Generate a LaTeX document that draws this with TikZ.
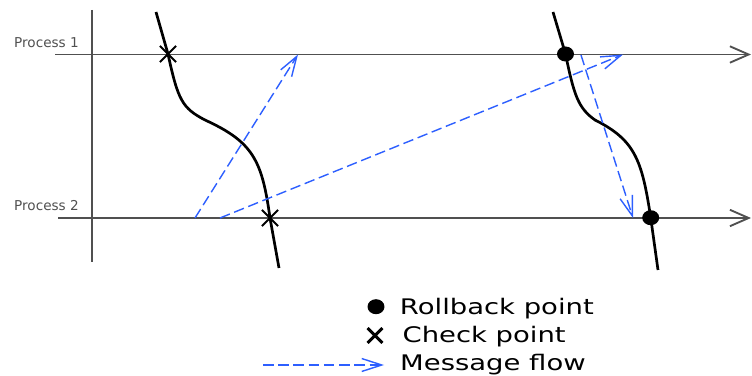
\documentclass[tikz,border=0pt]{standalone}
\usepackage{fontspec}
\newfontfamily\labelfont{DejaVu Sans}
\newfontfamily\legendfont[FakeStretch=1.28]{DejaVu Sans}
\usetikzlibrary{arrows.meta,positioning,shapes.misc,shapes.geometric}
\definecolor{axisgray}{RGB}{80,80,80}
\definecolor{msgblue}{RGB}{45,95,255}

\begin{document}
\begin{tikzpicture}[x=0.03cm,y=-0.03cm,
  axis/.style={draw=axisgray,line width=1.6pt},
  timeline/.style={axis,-{Straight Barb[length=16pt,width=14pt]}},
  life/.style={line width=2.3pt},
  msg/.style={draw=msgblue,line width=1.2pt,dash pattern=on 9pt off 4pt,-{Straight Barb[length=17pt,width=11pt]}},
  rollpt/.style={ellipse,fill=black,inner sep=0pt,minimum width=14.5pt,minimum height=12.8pt},
  ckpt/.style={cross out,draw,line width=1.8pt,inner sep=0pt,minimum size=12pt},
  proclabel/.style={text=axisgray,font=\labelfont\fontsize{11.6}{13}\selectfont,inner sep=0pt,anchor=west},
  legtext/.style={font=\legendfont\fontsize{18.3}{22}\selectfont,inner sep=0pt}]
  \useasboundingbox (0,0) rectangle (752,376);
  \coordinate (ytop) at (92,10);
  \coordinate (ybot) at (92,262);
  \coordinate (p1s) at (55,54.5);
  \coordinate (p1e) at (751,54.5);
  \coordinate (p2s) at (58,218);
  \coordinate (p2e) at (751,218);
  \draw[axis] (ytop) -- (ybot);
  \draw[timeline] (p1s) -- (p1e);
  \draw[timeline] (p2s) -- (p2e);
  \node[proclabel] (pl1) at (14,42.5) {Process 1};
  \node[proclabel] (pl2) at (14,206) {Process 2};
  \node[ckpt] (c1) at (168,54) {};
  \node[ckpt] (c2) at (270,218) {};
  \node[rollpt] (r1) at (565.5,54) {};
  \node[rollpt] (r2) at (650.7,217.7) {};
  \draw[life] (156,12) -- (c1.center) .. controls (178,100) and (182,108) .. (205,120)
    .. controls (253,142) and (262,160) .. (c2.center) -- (279,268);
  \draw[life] (553,12) -- (r1.center) .. controls (574,95) and (578,108) .. (595,120)
    .. controls (635,140) and (642,160) .. (r2.center) -- (658,270);
  \coordinate (m1s) at (195,218);
  \coordinate (m1e) at (298,54.5);
  \coordinate (m2s) at (220,218);
  \coordinate (m2e) at (623,54.5);
  \coordinate (m3s) at (581,55);
  \coordinate (m3e) at (633,218);
  \draw[msg] (m1s) -- (m1e);
  \draw[msg] (m2s) -- (m2e);
  \draw[msg] (m3s) -- (m3e);
  \node[rollpt] (lgr) at (376,306.7) {};
  \node[ckpt,line width=2.6pt,minimum size=10pt] (lgc) at (375,335.5) {};
  \coordinate (lgas) at (263,365);
  \coordinate (lgae) at (384,365);
  \draw[msg] (lgas) -- (lgae);
  \node[legtext,right=0.45cm of lgr,yshift=-2pt] (lgrt) {Rollback point};
  \node[legtext,right=0.6cm of lgc,yshift=-1pt] (lgct) {Check point};
  \node[legtext,right=0.48cm of lgae] (lgat) {Message flow};
\end{tikzpicture}
\end{document}
